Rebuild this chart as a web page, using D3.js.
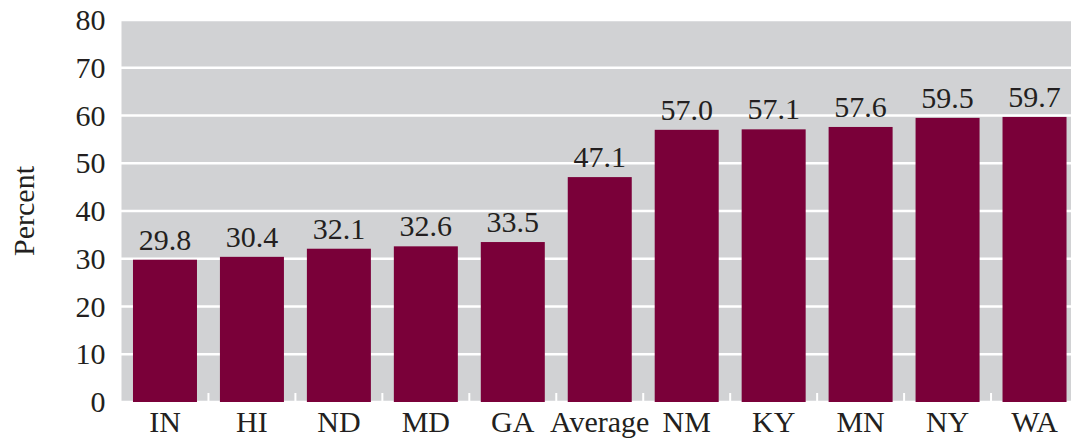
<!DOCTYPE html>
<html><head><meta charset="utf-8">
<script src="https://cdn.jsdelivr.net/npm/d3@7"></script>
<style>body{margin:0;background:#fff;} svg{display:block;}</style>
</head><body>
<svg id="chart" width="1071" height="440"></svg>
<script>
const categories = ["IN","HI","ND","MD","GA","Average","NM","KY","MN","NY","WA"];
const values = [29.8,30.4,32.1,32.6,33.5,47.1,57.0,57.1,57.6,59.5,59.7];
const labels = ["29.8","30.4","32.1","32.6","33.5","47.1","57.0","57.1","57.6","59.5","59.7"];
const yTicks = [0,10,20,30,40,50,60,70,80];
const yAxisTitle = "Percent";

(function(){
const svg = d3.select("#chart");
const mLeft = 121.5, mRight = 1078, mTop = 20, mBottom = 402;
const font = "'Liberation Serif','Times New Roman',serif";
const textColor = "#231f20";

const x = d3.scaleBand().domain(categories).range([mLeft, mRight]).paddingInner(0.264).paddingOuter(0.132);
const y = d3.scaleLinear().domain([0,80]).range([mBottom, mTop]);

svg.append("rect").attr("x", mLeft).attr("y", mTop).attr("width", mRight-mLeft).attr("height", mBottom-mTop).attr("fill", "#d1d2d4");

svg.append("g").selectAll("line").data(yTicks).join("line")
  .attr("x1", mLeft-1.5).attr("x2", mRight).attr("y1", d=>y(d)).attr("y2", d=>y(d))
  .attr("stroke", "#fff").attr("stroke-width", 2.5);

const step = x.step();
const bounds = d3.range(1, categories.length).map(i => x(categories[i]) - (step - x.bandwidth())/2);
svg.append("g").selectAll("line").data(bounds).join("line")
  .attr("x1", d=>d).attr("x2", d=>d).attr("y1", mBottom).attr("y2", mBottom-9)
  .attr("stroke", "#fff").attr("stroke-width", 2);

svg.append("g").selectAll("rect").data(values).join("rect")
  .attr("x", (d,i)=>x(categories[i])).attr("width", x.bandwidth())
  .attr("y", d=>y(d)).attr("height", d=>y(0)-y(d))
  .attr("fill", "#7a0039");

svg.append("g").selectAll("text").data(values).join("text")
  .attr("x", (d,i)=>x(categories[i]) + x.bandwidth()/2)
  .attr("y", d=>y(d)-10)
  .attr("text-anchor","middle").attr("font-family", font).attr("font-size", 30)
  .attr("fill", textColor).text((d,i)=>labels[i]);

const yAxis = d3.axisLeft(y).tickValues(yTicks).tickSize(0).tickPadding(16);
const gy = svg.append("g").attr("transform", `translate(${mLeft},0)`).call(yAxis);
gy.select(".domain").remove();
gy.selectAll("text").attr("font-family", font).attr("font-size", 30).attr("fill", textColor).attr("dy","0.32em");

const xAxis = d3.axisBottom(x).tickSize(0).tickPadding(9);
const gx = svg.append("g").attr("transform", `translate(0,${mBottom})`).call(xAxis);
gx.select(".domain").remove();
gx.selectAll("text").attr("font-family", font).attr("font-size", 30).attr("fill", textColor).attr("dy","0.71em");

svg.append("text").attr("transform", `translate(34,${(mTop+mBottom)/2}) rotate(-90)`)
  .attr("text-anchor","middle").attr("font-family", font).attr("font-size", 30)
  .attr("fill", textColor).text(yAxisTitle);
})();
</script>
</body></html>
